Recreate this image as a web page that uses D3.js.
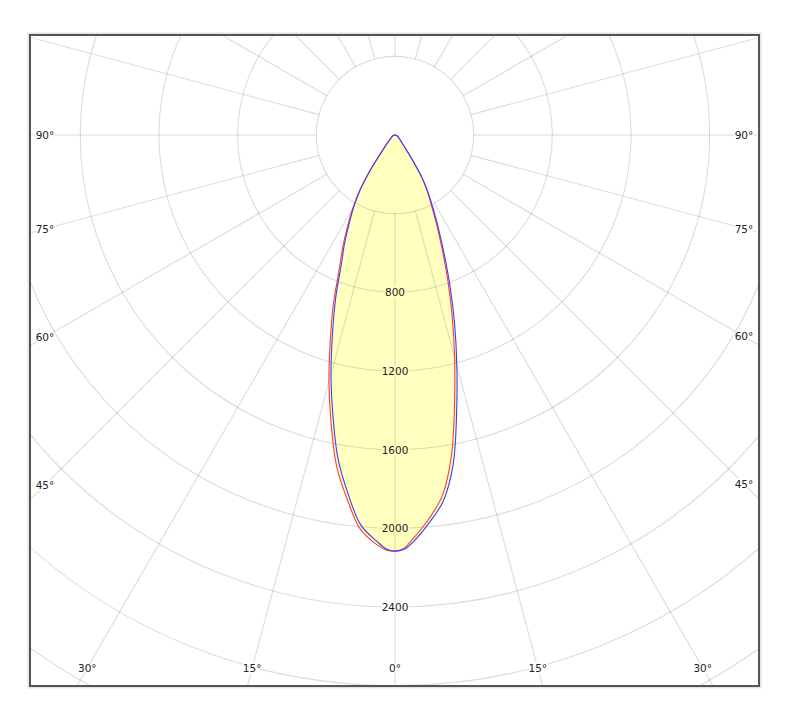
<!DOCTYPE html>
<html>
<head>
<meta charset="utf-8">
<script src="https://cdn.jsdelivr.net/npm/d3@7"></script>
<style>
    body { margin: 0; background: #fff; }
    text { font-family: "DejaVu Sans", Verdana, sans-serif; font-size: 10.5px; fill: #222; }
</style>
</head>
<body>
<svg id="chart" width="800" height="719"></svg>
<script>
// gamma angles (deg from nadir) and intensities (cd) for each half plane
const gammas = [0, 1.25, 2.5, 5, 7.5, 10, 12.5, 15, 17.5, 20, 22.5, 25, 27.5, 30, 32.5, 35, 37.5, 40, 42.5, 45, 47.5, 50, 55, 60, 70, 80, 90]
const redLeft = [2116, 2110, 2086, 2013, 1867, 1710, 1501, 1298, 1094, 916, 742, 628, 522, 428, 334, 224, 132, 87, 62, 47, 37, 32, 23, 17.5, 11, 6, 0]
const redRight = [2116, 2101, 2057, 1961, 1848, 1654, 1399, 1171, 968, 784, 624, 499, 399, 326, 246, 146, 90, 63, 50, 40, 33, 28, 21, 16.5, 11, 5.5, 0]
const blueLeft = [2116, 2104, 2070, 1991, 1837, 1670, 1459, 1258, 1056, 882, 714, 606, 502, 416, 326, 216, 128, 85, 62, 47, 37, 32, 23, 17.5, 11, 6, 0]
const blueRight = [2116, 2107, 2073, 1981, 1878, 1702, 1447, 1215, 1008, 818, 652, 521, 417, 334, 254, 154, 94, 65, 50, 40, 33, 28, 21, 16.5, 11, 5.5, 0]

const gridValues = [400, 800, 1200, 1600, 2000, 2400, 2800, 3200]
const intensityLabels = [800, 1200, 1600, 2000, 2400]
const angleLabels = [0, 15, 30, 45, 60, 75, 90]
const spokeStep = 15

const frame = { x: 30, y: 35, w: 729, h: 651 }
const cx = 395
const cy = 135
const fillColor = '#ffffc0'

const r = d3.scaleLinear().domain([0, 2400]).range([0, 472])
const rad = d => (d * Math.PI) / 180

const svg = d3.select('#chart')

svg.append('defs')
    .append('clipPath')
    .attr('id', 'clip')
    .append('rect')
    .attr('x', frame.x)
    .attr('y', frame.y)
    .attr('width', frame.w)
    .attr('height', frame.h)

// soft outer border
svg.append('rect')
    .attr('x', frame.x - 1.5)
    .attr('y', frame.y - 1.5)
    .attr('width', frame.w + 3)
    .attr('height', frame.h + 3)
    .attr('fill', 'none')
    .attr('stroke', '#e4e4e4')
    .attr('stroke-width', 2)

const plot = svg.append('g').attr('clip-path', 'url(#clip)')
const center = plot.append('g').attr('transform', `translate(${cx},${cy})`)

function outline(left, right) {
    const pts = []
    for (let i = gammas.length - 1; i > 0; i--)
        pts.push([Math.PI + rad(gammas[i]), r(left[i])])
    pts.push([Math.PI, r((left[0] + right[0]) / 2)])
    for (let i = 1; i < gammas.length; i++)
        pts.push([Math.PI - rad(gammas[i]), r(right[i])])
    return pts
}

const radial = d3
    .lineRadial()
    .angle(d => d[0])
    .radius(d => d[1])
    .curve(d3.curveCatmullRom.alpha(0.5))

const series = [
    { pts: outline(redLeft, redRight), color: '#ff3c3c' },
    { pts: outline(blueLeft, blueRight), color: '#3c3cff' }
]

// fill
center.selectAll('path.fill')
    .data(series)
    .enter()
    .append('path')
    .attr('class', 'fill')
    .attr('d', d => radial(d.pts))
    .attr('fill', fillColor)
    .attr('stroke', 'none')

// grid circles
center.selectAll('circle.grid')
    .data(gridValues)
    .enter()
    .append('circle')
    .attr('class', 'grid')
    .attr('r', d => r(d))
    .attr('fill', 'none')
    .attr('stroke', '#000')
    .attr('stroke-opacity', 0.14)
    .attr('stroke-width', 1.1)

// spokes from first circle outward
center.selectAll('line.spoke')
    .data(d3.range(0, 360, spokeStep))
    .enter()
    .append('line')
    .attr('class', 'spoke')
    .attr('x1', d => r(gridValues[0]) * Math.sin(rad(d)))
    .attr('y1', d => r(gridValues[0]) * Math.cos(rad(d)))
    .attr('x2', d => 1000 * Math.sin(rad(d)))
    .attr('y2', d => 1000 * Math.cos(rad(d)))
    .attr('stroke', '#000')
    .attr('stroke-opacity', 0.14)
    .attr('stroke-width', 1.1)

// curves
center.selectAll('path.curve')
    .data(series)
    .enter()
    .append('path')
    .attr('class', 'curve')
    .attr('d', d => radial(d.pts))
    .attr('fill', 'none')
    .attr('stroke', d => d.color)
    .attr('stroke-width', 1.1)

// intensity labels down the 0° line
const peak = d3.max([redLeft[0], blueLeft[0]])
center.selectAll('text.ilabel')
    .data(intensityLabels)
    .enter()
    .append('text')
    .attr('class', 'ilabel')
    .attr('x', 0)
    .attr('y', d => r(d))
    .attr('text-anchor', 'middle')
    .attr('dominant-baseline', 'central')
    .attr('stroke', d => (d < peak ? fillColor : '#fff'))
    .attr('stroke-width', 3)
    .attr('paint-order', 'stroke')
    .text(d => d)

// angle labels, placed where each spoke meets an inset of the frame
const inset = { left: frame.x + 15, right: frame.x + frame.w - 15, bottom: frame.y + frame.h - 18 }
const angleItems = []
angleLabels.forEach(a => {
    const sides = a === 0 ? [1] : [-1, 1]
    sides.forEach(s => {
        const dx = s * Math.sin(rad(a))
        const dy = Math.cos(rad(a))
        const ts = []
        if (dx < -1e-9) ts.push((inset.left - cx) / dx)
        if (dx > 1e-9) ts.push((inset.right - cx) / dx)
        if (dy > 1e-9) ts.push((inset.bottom - cy) / dy)
        const t = d3.min(ts)
        angleItems.push({ a, x: cx + t * dx, y: cy + t * dy })
    })
})

svg.selectAll('text.alabel')
    .data(angleItems)
    .enter()
    .append('text')
    .attr('class', 'alabel')
    .attr('x', d => d.x)
    .attr('y', d => d.y)
    .attr('text-anchor', 'middle')
    .attr('dominant-baseline', 'central')
    .attr('stroke', '#fff')
    .attr('stroke-width', 3)
    .attr('paint-order', 'stroke')
    .text(d => d.a + '°')

// frame
svg.append('rect')
    .attr('x', frame.x)
    .attr('y', frame.y)
    .attr('width', frame.w)
    .attr('height', frame.h)
    .attr('fill', 'none')
    .attr('stroke', '#555')
    .attr('stroke-width', 2)
</script>
</body>
</html>
